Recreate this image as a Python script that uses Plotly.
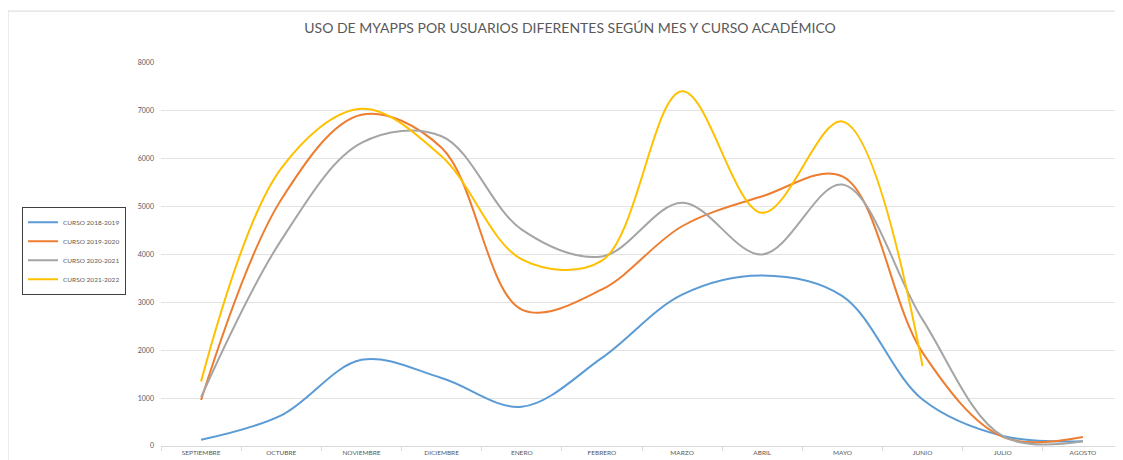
import plotly.graph_objects as go

# datos
meses = ['SEPTIEMBRE', 'OCTUBRE', 'NOVIEMBRE', 'DICIEMBRE', 'ENERO', 'FEBRERO',
         'MARZO', 'ABRIL', 'MAYO', 'JUNIO', 'JULIO', 'AGOSTO']

curso_2018_2019 = [130, 640, 1800, 1420, 820, 1840, 3160, 3560, 3130, 970, 210, 100]
curso_2019_2020 = [960, 5150, 6920, 6230, 2850, 3270, 4590, 5215, 5630, 1950, 190, 190]
curso_2020_2021 = [1020, 4300, 6330, 6470, 4520, 3960, 5080, 4000, 5460, 2640, 205, 100]
curso_2021_2022 = [1350, 5800, 7045, 6050, 3900, 3870, 7410, 4870, 6780, 1670]

series = [
    ('CURSO 2018-2019', curso_2018_2019, '#5B9BD5'),
    ('CURSO 2019-2020', curso_2019_2020, '#ED7D31'),
    ('CURSO 2020-2021', curso_2020_2021, '#A5A5A5'),
    ('CURSO 2021-2022', curso_2021_2022, '#FFC000'),
]

fig = go.Figure()
for nombre, valores, color in series:
    fig.add_trace(go.Scatter(
        x=meses[:len(valores)], y=valores, name=nombre, mode='lines',
        line=dict(color=color, width=2, shape='spline', smoothing=1.0),
    ))

font_txt = 'Lato, Open Sans, sans-serif'

# la pagina tiene 8px de margen en el body, por eso el lienzo es 1115x452
W, H = 1115, 452
L, T, B = 153, 55, 13.5
plot_w = W - L
plot_h = H - T - B

fig.update_layout(
    width=W, height=H,
    margin=dict(l=L, r=0, t=T, b=B),
    paper_bgcolor='white', plot_bgcolor='white',
    title=dict(text='USO DE MYAPPS POR USUARIOS DIFERENTES SEGÚN MES Y CURSO ACADÉMICO',
               x=562 / W, xanchor='center', y=1 - 20 / H, yanchor='middle',
               font=dict(family=font_txt, size=14, color='#595959')),
    legend=dict(x=(14 - L) / plot_w, xanchor='left', y=(H - B - 199) / plot_h, yanchor='top',
                bordercolor='#404040', borderwidth=1, bgcolor='white',
                font=dict(family=font_txt, size=6.5, color='#595959'),
                itemwidth=30),
    xaxis=dict(type='category', range=[-0.5, 11.5], showgrid=False,
               showline=True, linecolor='#d9d9d9', linewidth=1,
               ticks='outside', tickson='boundaries', ticklen=4, tickcolor='#d9d9d9',
               tickfont=dict(family=font_txt, size=6.5, color='#595959'),
               automargin=False),
    yaxis=dict(range=[0, 8000], dtick=1000, showgrid=True, gridcolor='#e3e3e3',
               zeroline=False, showline=False,
               tickfont=dict(family=font_txt, size=7, color='#595959'),
               ticklabelstandoff=6, automargin=False),
    shapes=[dict(type='rect', xref='paper', yref='paper',
                 x0=(0 - L) / plot_w, x1=1.02, y0=-0.2, y1=(H - B - 3) / plot_h,
                 line=dict(color='#d9d9d9', width=1), layer='below')],
)

fig.write_html('out.html')
